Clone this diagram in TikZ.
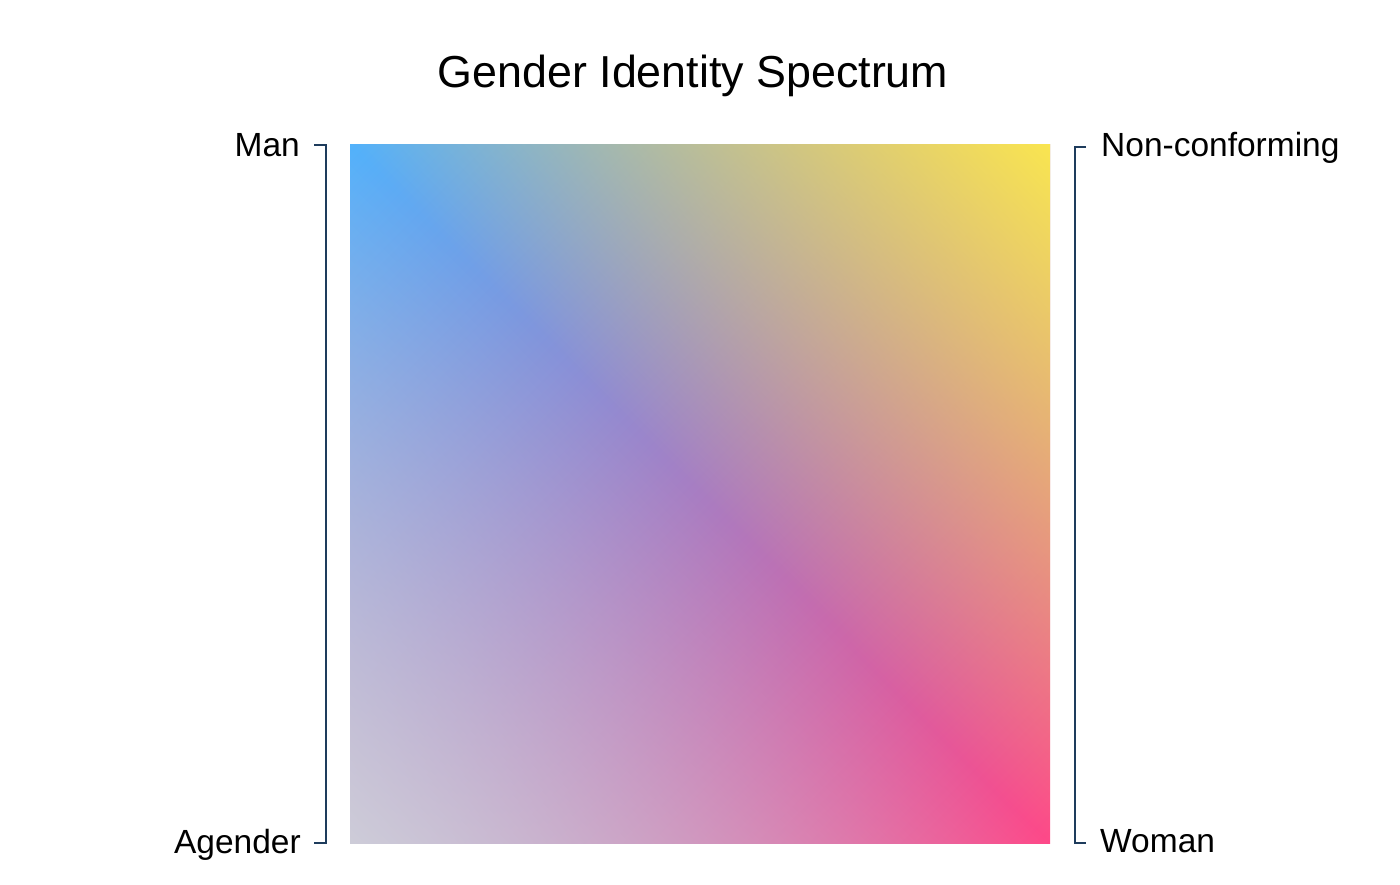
\documentclass[tikz,border=0pt]{standalone}
\usepackage{fontspec}
\setmainfont{Liberation Sans}
\usetikzlibrary{fadings, calc}
\definecolor{specblue}{RGB}{82,178,252}
\definecolor{specyellow}{RGB}{250,230,80}
\definecolor{specgrey}{RGB}{206,205,217}
\definecolor{specpink}{RGB}{255,72,136}
\definecolor{bracketblue}{RGB}{30,60,92}
\tikzset{
    titlelabel/.style={font=\fontsize{44.8}{54}\selectfont, inner sep=0pt},
    axislabel/.style={font=\fontsize{33.5}{40}\selectfont, inner sep=0pt},
    bracketline/.style={draw=bracketblue, line width=2pt},
}

\begin{document}
\begin{tikzpicture}[x=1pt, y=-1pt]
\useasboundingbox (0,0) rectangle (1400,884);

% spectrum square
\coordinate (sqNW) at (350,144);
\coordinate (sqSE) at (1050,843);
\begin{scope}
    \clip (sqNW) rectangle (sqSE);
    \begin{scope}[transform canvas={shift={(700,493.5)}, rotate=-45}]
        \shade[left color=specblue, right color=specpink] (-496,-496) rectangle (496,496);
        \fill[specyellow, path fading=south] (-496,-496) rectangle (496,0);
        \fill[specgrey, path fading=north] (-496,0) rectangle (496,496);
    \end{scope}
\end{scope}

\node[titlelabel, anchor=base] (title) at (693,87) {Gender Identity Spectrum};

% left axis
\node[axislabel, anchor=base east] (man) at (300,156) {Man};
\node[axislabel, anchor=base east] (agender) at (301,853) {Agender};
\coordinate (lTop) at (326,145);
\coordinate (lBot) at (326,843);
\draw[bracketline] ($(lTop)+(-12,0)$) -- (lTop) -- (lBot) -- ++(-12,0);

% right axis
\node[axislabel, anchor=base west] (noncon) at (1101,156) {Non-conforming};
\node[axislabel, anchor=base west] (woman) at (1100,852) {Woman};
\coordinate (rTop) at (1075,147);
\coordinate (rBot) at (1075,843);
\draw[bracketline] ($(rTop)+(11,0)$) -- (rTop) -- (rBot) -- ++(11,0);
\end{tikzpicture}
\end{document}
